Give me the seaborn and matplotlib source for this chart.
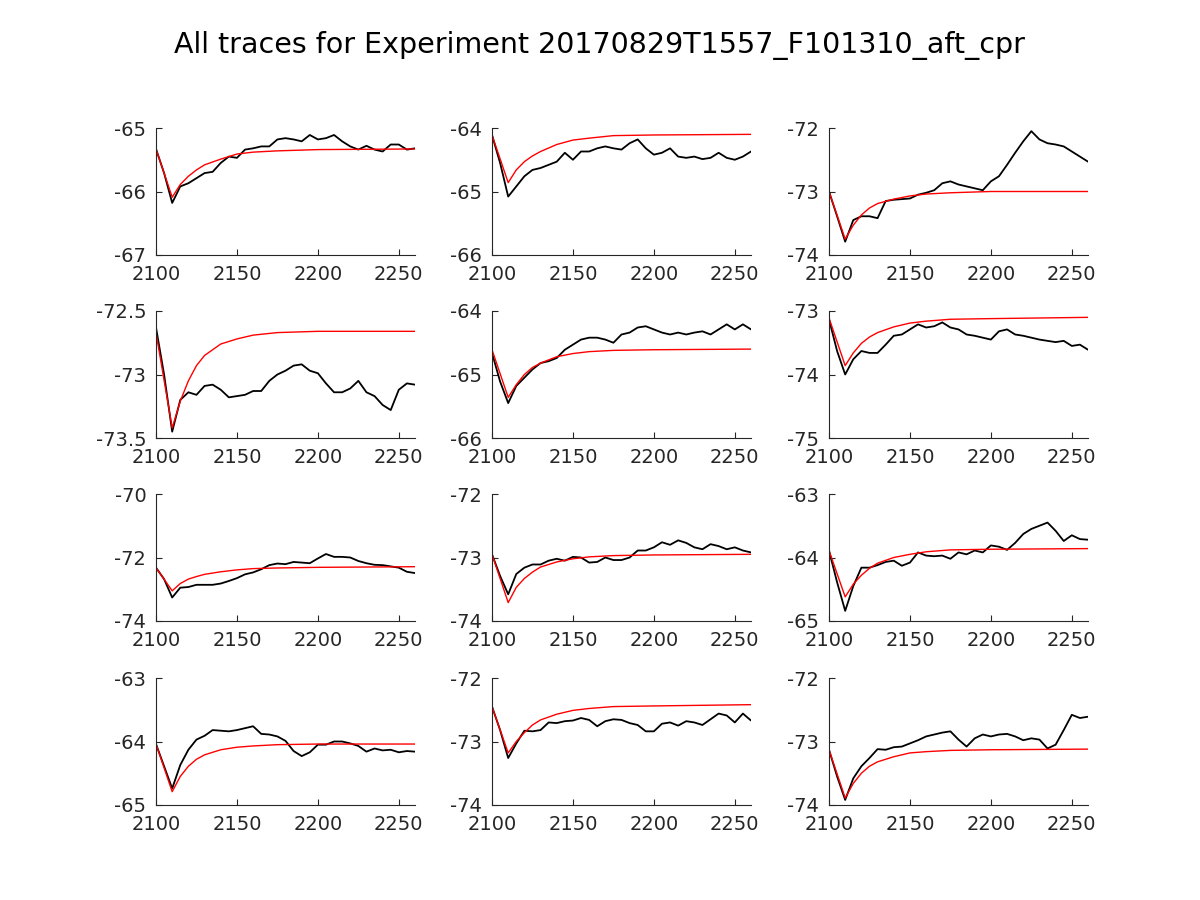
import numpy as np
import pandas as pd
import matplotlib
matplotlib.use("Agg")
import matplotlib.pyplot as plt
import seaborn as sns

TITLE = "All traces for Experiment 20170829T1557_F101310_aft_cpr"

TIME = [2100, 2105, 2110, 2115, 2120, 2125, 2130, 2135, 2140, 2145, 2150,
        2155, 2160, 2165, 2170, 2175, 2180, 2185, 2190, 2195, 2200, 2205,
        2210, 2215, 2220, 2225, 2230, 2235, 2240, 2245, 2250, 2255, 2260]

FIT_TIME = [2100, 2110, 2115, 2120, 2125, 2130, 2140, 2150, 2160, 2175, 2200, 2260]

trace_1 = [-65.33, -65.71, -66.18, -65.92, -65.87, -65.79, -65.71, -65.69, -65.55, -65.45, -65.47,
           -65.34, -65.32, -65.29, -65.29, -65.18, -65.16, -65.18, -65.21, -65.11, -65.18, -65.16,
           -65.11, -65.21, -65.29, -65.34, -65.28, -65.34, -65.37, -65.26, -65.26, -65.34, -65.32]
fit_1 = [-65.33, -66.09, -65.89, -65.76, -65.66, -65.58, -65.49, -65.41, -65.38, -65.36, -65.34, -65.33]

trace_2 = [-64.11, -64.55, -65.08, -64.92, -64.76, -64.66, -64.63, -64.58, -64.53, -64.39, -64.50,
           -64.37, -64.37, -64.32, -64.29, -64.32, -64.34, -64.24, -64.18, -64.32, -64.42, -64.39,
           -64.32, -64.45, -64.47, -64.45, -64.49, -64.47, -64.39, -64.47, -64.50, -64.45, -64.37]
fit_2 = [-64.11, -64.86, -64.66, -64.53, -64.44, -64.37, -64.26, -64.19, -64.16, -64.12, -64.11, -64.10]

trace_3 = [-73.00, -73.39, -73.79, -73.45, -73.39, -73.39, -73.42, -73.15, -73.13, -73.12, -73.11,
           -73.05, -73.02, -72.98, -72.87, -72.84, -72.89, -72.92, -72.95, -72.98, -72.84, -72.76,
           -72.58, -72.39, -72.21, -72.05, -72.18, -72.24, -72.26, -72.29, -72.37, -72.45, -72.53]
fit_3 = [-73.00, -73.75, -73.53, -73.37, -73.26, -73.19, -73.12, -73.07, -73.04, -73.02, -73.00, -73.00]

trace_4 = [-72.63, -73.00, -73.45, -73.20, -73.14, -73.16, -73.09, -73.08, -73.12, -73.18, -73.17,
           -73.16, -73.13, -73.13, -73.05, -73.00, -72.97, -72.93, -72.92, -72.97, -72.99, -73.07,
           -73.14, -73.14, -73.11, -73.05, -73.14, -73.17, -73.24, -73.28, -73.12, -73.07, -73.08]
fit_4 = [-72.67, -73.42, -73.21, -73.05, -72.93, -72.85, -72.76, -72.72, -72.69, -72.67, -72.66, -72.66]

trace_5 = [-64.66, -65.11, -65.45, -65.18, -65.05, -64.92, -64.82, -64.79, -64.74, -64.61, -64.53,
           -64.45, -64.42, -64.42, -64.45, -64.50, -64.37, -64.34, -64.26, -64.24, -64.29, -64.34,
           -64.37, -64.34, -64.37, -64.34, -64.32, -64.37, -64.29, -64.21, -64.29, -64.21, -64.29]
fit_5 = [-64.61, -65.36, -65.16, -65.00, -64.89, -64.82, -64.72, -64.67, -64.64, -64.62, -64.61, -64.60]

trace_6 = [-73.13, -73.63, -74.00, -73.76, -73.63, -73.66, -73.66, -73.53, -73.39, -73.37, -73.29,
           -73.21, -73.26, -73.24, -73.18, -73.26, -73.29, -73.37, -73.39, -73.42, -73.45, -73.32,
           -73.29, -73.37, -73.39, -73.42, -73.45, -73.47, -73.49, -73.47, -73.55, -73.53, -73.61]
fit_6 = [-73.11, -73.86, -73.66, -73.51, -73.41, -73.34, -73.25, -73.19, -73.16, -73.13, -73.12, -73.10]

trace_7 = [-72.32, -72.68, -73.26, -72.95, -72.93, -72.86, -72.86, -72.86, -72.82, -72.74, -72.65,
           -72.53, -72.47, -72.37, -72.24, -72.19, -72.21, -72.14, -72.16, -72.18, -72.03, -71.89,
           -71.98, -71.98, -72.00, -72.11, -72.18, -72.23, -72.24, -72.28, -72.32, -72.45, -72.49]
fit_7 = [-72.32, -73.05, -72.82, -72.68, -72.60, -72.53, -72.45, -72.39, -72.35, -72.33, -72.31, -72.29]

trace_8 = [-72.95, -73.29, -73.58, -73.26, -73.16, -73.11, -73.11, -73.05, -73.02, -73.05, -72.99,
           -73.00, -73.08, -73.07, -73.00, -73.04, -73.04, -73.00, -72.89, -72.89, -72.84, -72.76,
           -72.80, -72.73, -72.77, -72.84, -72.87, -72.79, -72.82, -72.87, -72.84, -72.89, -72.92]
fit_8 = [-72.95, -73.71, -73.47, -73.33, -73.23, -73.15, -73.07, -73.02, -72.99, -72.97, -72.96, -72.95]

trace_9 = [-63.89, -64.39, -64.84, -64.45, -64.16, -64.16, -64.12, -64.07, -64.05, -64.13, -64.08,
           -63.92, -63.97, -63.98, -63.97, -64.02, -63.92, -63.95, -63.89, -63.92, -63.81, -63.83,
           -63.88, -63.77, -63.63, -63.55, -63.50, -63.45, -63.58, -63.74, -63.65, -63.71, -63.72]
fit_9 = [-63.89, -64.62, -64.42, -64.28, -64.17, -64.09, -64.00, -63.95, -63.91, -63.88, -63.87, -63.86]

trace_10 = [-64.04, -64.39, -64.74, -64.37, -64.13, -63.97, -63.91, -63.82, -63.83, -63.84, -63.82,
            -63.79, -63.76, -63.88, -63.89, -63.92, -63.99, -64.15, -64.23, -64.17, -64.05, -64.05,
            -64.00, -64.00, -64.03, -64.07, -64.16, -64.11, -64.14, -64.13, -64.17, -64.15, -64.16]
fit_10 = [-64.04, -64.79, -64.55, -64.39, -64.28, -64.21, -64.13, -64.09, -64.07, -64.05, -64.04, -64.04]

trace_11 = [-72.45, -72.82, -73.26, -73.03, -72.83, -72.84, -72.82, -72.70, -72.71, -72.68, -72.67,
            -72.63, -72.66, -72.76, -72.68, -72.65, -72.66, -72.71, -72.74, -72.84, -72.84, -72.72,
            -72.70, -72.75, -72.68, -72.70, -72.74, -72.65, -72.56, -72.59, -72.70, -72.56, -72.67]
fit_11 = [-72.45, -73.18, -73.00, -72.86, -72.74, -72.66, -72.57, -72.51, -72.48, -72.45, -72.44, -72.42]

trace_12 = [-73.13, -73.55, -73.92, -73.58, -73.39, -73.26, -73.12, -73.13, -73.09, -73.08, -73.03,
            -72.98, -72.92, -72.89, -72.86, -72.84, -72.97, -73.08, -72.95, -72.89, -72.92, -72.89,
            -72.88, -72.92, -72.98, -72.95, -72.97, -73.11, -73.05, -72.82, -72.58, -72.63, -72.61]
fit_12 = [-73.13, -73.89, -73.66, -73.50, -73.39, -73.32, -73.24, -73.18, -73.16, -73.14, -73.13, -73.12]

TRACES = [trace_1, trace_2, trace_3, trace_4, trace_5, trace_6,
          trace_7, trace_8, trace_9, trace_10, trace_11, trace_12]
FITS = [fit_1, fit_2, fit_3, fit_4, fit_5, fit_6,
        fit_7, fit_8, fit_9, fit_10, fit_11, fit_12]

Y_TICKS = [[-67, -66, -65], [-66, -65, -64], [-74, -73, -72],
           [-73.5, -73, -72.5], [-66, -65, -64], [-75, -74, -73],
           [-74, -72, -70], [-74, -73, -72], [-65, -64, -63],
           [-65, -64, -63], [-74, -73, -72], [-74, -73, -72]]
Y_TICK_LABELS = [["-67", "-66", "-65"], ["-66", "-65", "-64"], ["-74", "-73", "-72"],
                 ["-73.5", "-73", "-72.5"], ["-66", "-65", "-64"], ["-75", "-74", "-73"],
                 ["-74", "-72", "-70"], ["-74", "-73", "-72"], ["-65", "-64", "-63"],
                 ["-65", "-64", "-63"], ["-74", "-73", "-72"], ["-74", "-73", "-72"]]
X_TICKS = [2100, 2150, 2200, 2250]
X_TICK_LABELS = ["2100", "2150", "2200", "2250"]
X_LIM = (2100, 2260)

sns.set_style("ticks")
plt.rcParams['font.family'] = ['DejaVu Sans']
plt.rcParams['axes.unicode_minus'] = False

fig = plt.figure(figsize=(12, 9), dpi=100)
fig.patch.set_facecolor("white")

lefts = [156 / 1200, 492 / 1200, 829 / 1200]
bottoms = [1 - 255 / 900, 1 - 438 / 900, 1 - 621 / 900, 1 - 805 / 900]
w = 259 / 1200
h = 127 / 900
axcol = "#262626"

for i in range(12):
    r, c = divmod(i, 3)
    ax = fig.add_axes([lefts[c], bottoms[r], w, h])
    df_t = pd.DataFrame({"t": TIME, "v": TRACES[i]})
    df_f = pd.DataFrame({"t": FIT_TIME, "v": FITS[i]})
    sns.lineplot(data=df_t, x="t", y="v", ax=ax, color="black", linewidth=1.3,
                 estimator=None, sort=False)
    sns.lineplot(data=df_f, x="t", y="v", ax=ax, color="#ff0000", linewidth=1.0,
                 estimator=None, sort=False)
    ax.set_xlim(*X_LIM)
    yt = Y_TICKS[i]
    ax.set_ylim(yt[0], yt[-1])
    ax.set_xticks(X_TICKS)
    ax.set_xticklabels(X_TICK_LABELS)
    ax.set_yticks(yt)
    ax.set_yticklabels(Y_TICK_LABELS[i])
    ax.set_xlabel("")
    ax.set_ylabel("")
    for s in ["top", "right"]:
        ax.spines[s].set_visible(False)
    for s in ["left", "bottom"]:
        ax.spines[s].set_color(axcol)
        ax.spines[s].set_linewidth(0.8)
    ax.tick_params(direction="in", length=4, width=0.8, colors=axcol,
                   labelsize=14, labelcolor=axcol)
    ax.tick_params(axis="x", pad=7)
    ax.tick_params(axis="y", pad=7)
    ax.set_facecolor("white")

fig.text(0.5, 1 - 46 / 900, TITLE, ha="center", va="center", fontsize=20.5, color="black")

fig.savefig("out.png", dpi=100, facecolor="white")
